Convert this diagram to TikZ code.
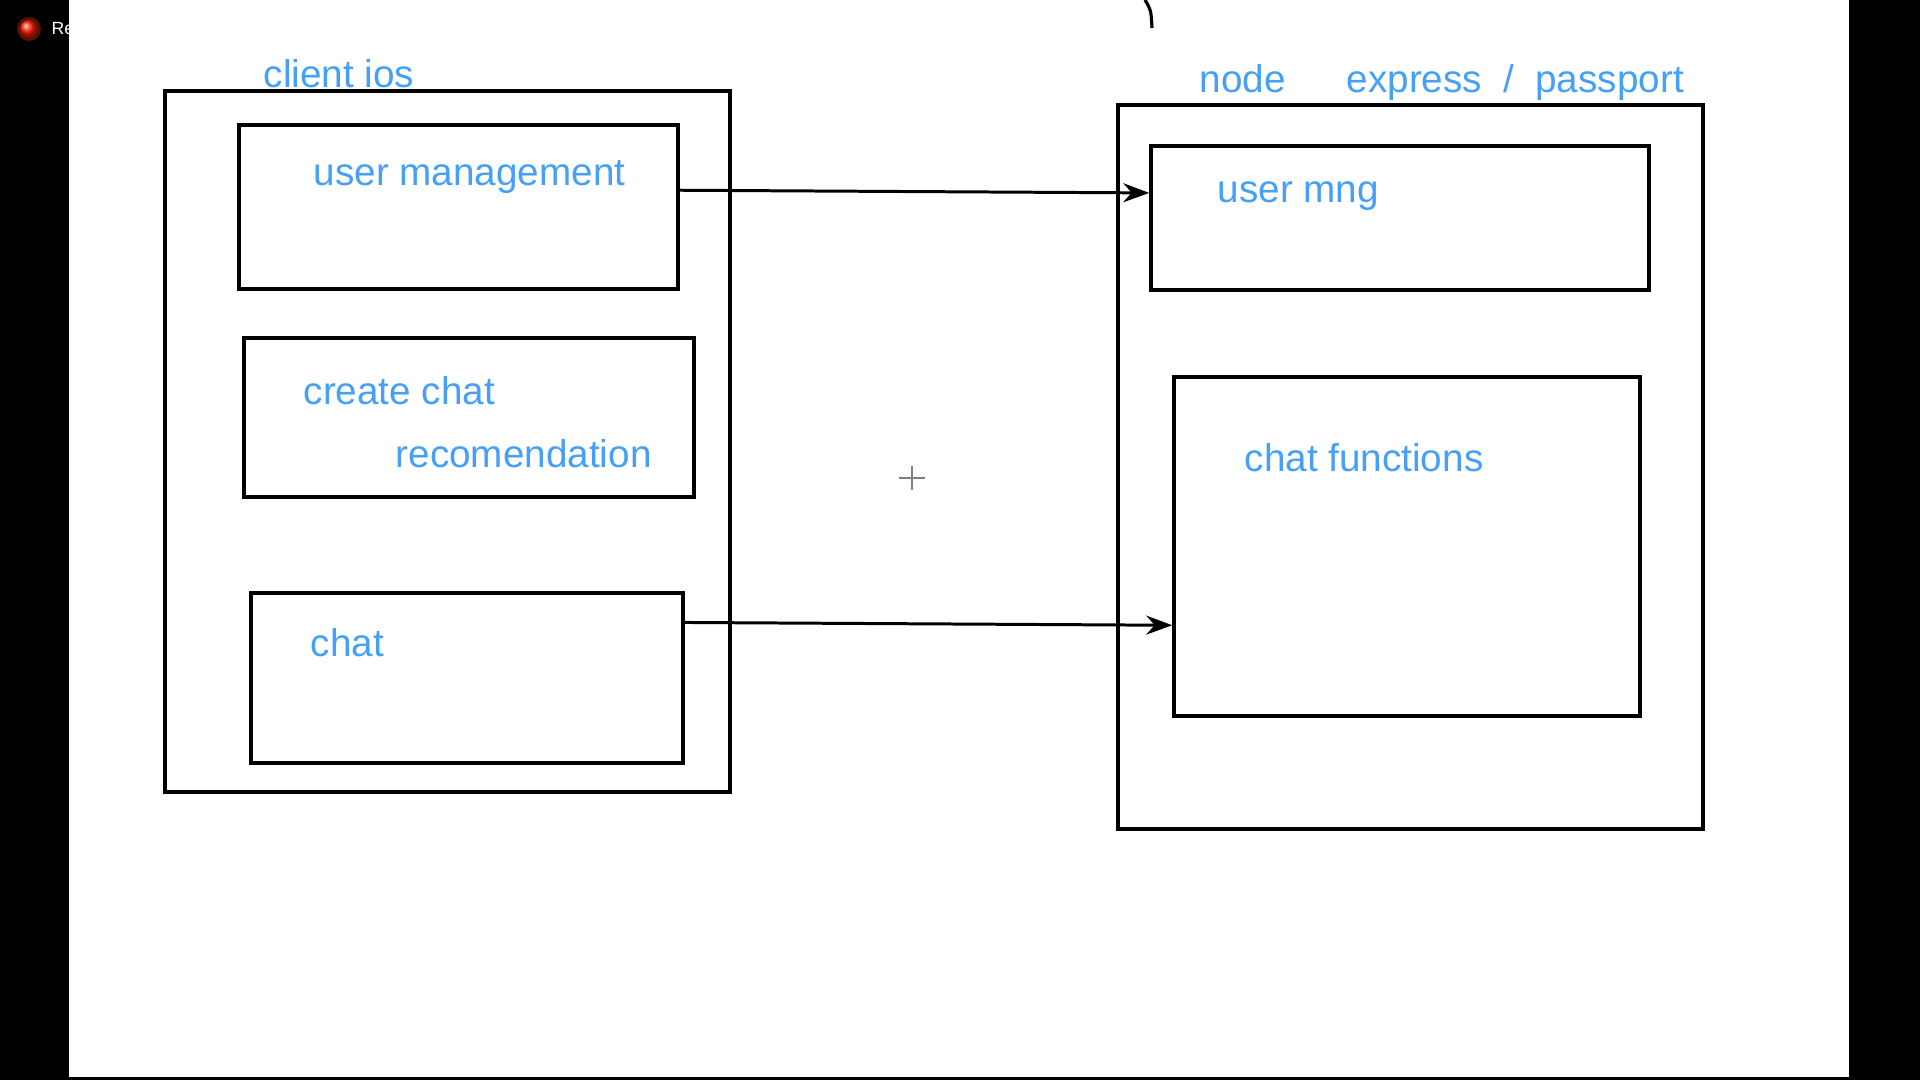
\documentclass[tikz,border=0pt]{standalone}
\usepackage{fontspec}
\setmainfont{Liberation Sans}
\usepackage{tikz}
\usetikzlibrary{arrows.meta}
\usetikzlibrary{fit}
\usetikzlibrary{calc}

\definecolor{penblue}{RGB}{70,160,245}

\begin{document}
\begin{tikzpicture}[x=0.01cm, y=-0.01cm,
    box/.style={draw, line width=1pt, inner sep=0pt},
    label/.style={anchor=base west, inner sep=0pt, text=penblue,
      font=\fontsize{11pt}{13pt}\selectfont},
    link/.style={-{Stealth[length=2.6mm, width=1.9mm]}, line width=0.85pt}]
    \useasboundingbox (0, 0) rectangle (1920, 1080);
    % screen frame
    \fill[black] (0, 0) rectangle (1920, 1080);
    \fill[red!60!orange, opacity=0.35] (29, 29) circle (12);
    \shade[ball color=red!75!orange] (29, 29) circle (9);
    \node[anchor=base west, inner sep=0pt, text=white,
      font=\fontsize{5pt}{6pt}\selectfont] (rec) at (51, 35) {Re};
    \fill[white] (69, 0) rectangle (1849, 1077);

    % client side
    \node[box, fit={(165, 91) (730, 792)}] (client) {};
    \node[box, fit={(239, 125) (678, 289)}] (usermgmt) {};
    \node[box, fit={(244, 338) (694, 497)}] (createchat) {};
    \node[box, fit={(251, 593) (683, 763)}] (chat) {};
    \node[label] (clienttitle) at (263, 88) {client ios};
    \node[label] (usermgmttext) at (313, 186) {user management};
    \node[label] (createtext) at (303, 405) {create chat};
    \node[label] (recotext) at (395, 468) {recomendation};
    \node[label] (chattext) at (310, 657) {chat};

    % server side
    \node[box, fit={(1118, 105) (1703, 829)}] (server) {};
    \node[box, fit={(1151, 146) (1649, 290)}] (usermng) {};
    \node[box, fit={(1174, 377) (1640, 716)}] (chatfunc) {};
    \node[label] (nodetitle) at (1199, 93) {node};
    \node[label] (expresstitle) at (1346, 93)
      {express\hspace{0.55em}/\hspace{0.55em}passport};
    \node[label] (usermngtext) at (1217, 203) {user mng};
    \node[label] (chatfunctext) at (1244, 472) {chat functions};

    % links
    \draw[link] ($(usermgmt.north east)!0.40!(usermgmt.south east)$)
      -- ($(usermng.north west)!0.33!(usermng.south west)$);
    \draw[link] ($(chat.north east)!0.18!(chat.south east)$)
      -- ($(chatfunc.north west)!0.73!(chatfunc.south west)$);

    % pointer and pen mark
    \draw[gray, line width=0.6pt] (899, 478) -- (925, 478);
    \draw[gray, line width=0.6pt] (912, 466) -- (912, 490);
    \draw[line width=0.9pt] (1145, 0) .. controls (1151, 10) .. (1152, 28);
\end{tikzpicture}
\end{document}
